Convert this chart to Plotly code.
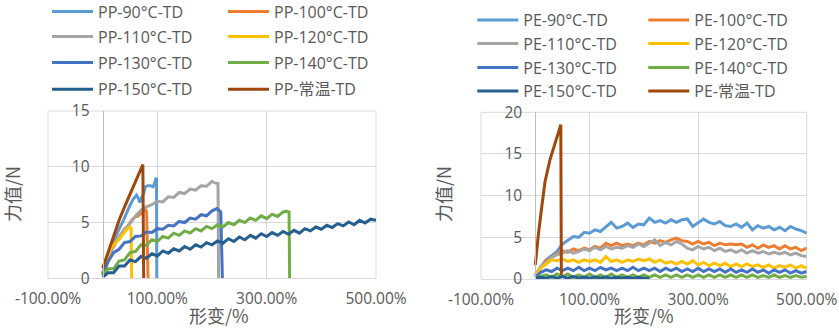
import plotly.graph_objects as go

W, H = 839, 333

COLORS = ["#5B9BD5", "#ED7D31", "#A5A5A5", "#FFC000",
          "#4472C4", "#70AD47", "#255E91", "#9E480E"]

# shared strain grid (%), 10 % steps
X10 = [0, 10, 20, 30, 40, 50, 60, 70, 80, 90, 100, 110, 120, 130, 140, 150, 160, 170,
       180, 190, 200, 210, 220, 230, 240, 250, 260, 270, 280, 290, 300, 310, 320, 330,
       340, 350, 360, 370, 380, 390, 400, 410, 420, 430, 440, 450, 460, 470, 480, 490, 500]

X_TICKS = [-100, 100, 300, 500]
X_TICK_TEXT = ["-100.00%", "100.00%", "300.00%", "500.00%"]
PP_Y_TICKS = [0, 5, 10, 15]
PE_Y_TICKS = [0, 5, 10, 15, 20]

# ---------------- PP, TD direction ----------------
PP_NAMES = ["PP-90°C-TD", "PP-100°C-TD", "PP-110°C-TD", "PP-120°C-TD",
            "PP-130°C-TD", "PP-140°C-TD", "PP-150°C-TD", "PP-常温-TD"]

PP90_X = [0, 5, 13, 20, 26, 32, 38, 44, 50, 56, 62, 65, 68, 72, 75, 78, 82, 87, 92, 95, 97, 98.5, 99]
PP90_Y = [0.4, 1.5, 2.6, 3.4, 4.0, 4.6, 5.2, 5.9, 6.55, 7.1, 7.45, 7.2, 6.8, 7.3, 7.6, 8.2, 8.3, 8.3,
          8.2, 8.5, 8.9, 8.9, 0]

PP100_X = [0, 5, 10, 15, 20, 25, 30, 35, 40, 45, 50, 55, 60, 65, 70, 75, 79, 80.5, 82, 83]
PP100_Y = [0.4, 1.2, 1.9, 2.4, 2.9, 3.3, 3.7, 4.1, 4.4, 4.5, 5.0, 5.3, 5.5, 5.6, 5.8, 6.0, 6.2, 5.8, 2.5, 0]

PP110_X = [0, 5, 10, 20, 30, 40, 50, 60, 70, 80, 90, 100, 110, 120, 130, 140, 150, 160, 170,
           180, 190, 200, 205, 211, 212]
PP110_Y = [0.5, 1.2, 1.9, 2.9, 3.7, 4.4, 4.9, 5.6, 6.1, 6.4, 6.6, 6.9, 6.85, 7.3, 7.25, 7.7, 7.6,
           8.0, 7.9, 8.3, 8.25, 8.7, 8.55, 8.5, 0]

PP120_X = [0, 5, 13, 20, 26, 32, 38, 44, 49, 52, 53]
PP120_Y = [0.3, 1.3, 2.5, 3.0, 3.3, 3.6, 4.0, 4.4, 4.6, 4.5, 0]

PP130_X = [0, 10, 20, 30, 40, 50, 60, 70, 80, 90, 100, 110, 120, 130, 140, 150, 160, 170, 180,
           190, 200, 209, 216, 219]
PP130_Y = [0.3, 1.5, 2.3, 2.6, 3.2, 3.3, 3.75, 3.8, 4.15, 4.1, 4.45, 4.4, 4.75, 4.7, 5.1, 5.0,
           5.4, 5.3, 5.7, 5.6, 6.05, 6.25, 5.95, 0]

PP140_X = X10[:34] + [335, 341, 342]
PP140_Y = [0.3, 0.85, 0.85, 1.55, 1.65, 2.3, 2.4, 3.0, 2.95, 3.45, 3.3, 3.75, 3.6, 4.05, 3.85,
           4.25, 4.05, 4.45, 4.25, 4.65, 4.45, 4.8, 4.6, 5.0, 4.8, 5.2, 5.0, 5.4, 5.2, 5.6, 5.35,
           5.75, 5.55, 5.95, 6.0, 5.95, 0]

PP150_X = X10
PP150_Y = [0.1, 0.5, 0.5, 1.1, 1.1, 1.65, 1.5, 1.95, 1.8, 2.2, 2.0, 2.45, 2.25, 2.65, 2.45, 2.85,
           2.6, 3.0, 2.8, 3.2, 3.0, 3.35, 3.15, 3.55, 3.3, 3.7, 3.45, 3.85, 3.6, 4.0, 3.75, 4.1,
           3.85, 4.2, 3.95, 4.3, 4.05, 4.45, 4.25, 4.6, 4.4, 4.75, 4.55, 4.9, 4.7, 5.05, 4.8, 5.2,
           4.95, 5.3, 5.2]

PPRT_X = [0, 10, 20, 30, 40, 50, 60, 70, 73.5, 75]
PPRT_Y = [0.9, 2.4, 3.85, 5.2, 6.4, 7.55, 8.6, 9.7, 10.2, 0]

PP_X = [PP90_X, PP100_X, PP110_X, PP120_X, PP130_X, PP140_X, PP150_X, PPRT_X]
PP_Y = [PP90_Y, PP100_Y, PP110_Y, PP120_Y, PP130_Y, PP140_Y, PP150_Y, PPRT_Y]

# ---------------- PE, TD direction ----------------
PE_NAMES = ["PE-90°C-TD", "PE-100°C-TD", "PE-110°C-TD", "PE-120°C-TD",
            "PE-130°C-TD", "PE-140°C-TD", "PE-150°C-TD", "PE-常温-TD"]

PE90_Y = [0.5, 1.4, 2.3, 2.8, 3.3, 4.2, 4.6, 5.1, 5.0, 5.6, 5.5, 5.9, 5.7, 6.3, 6.8, 6.1, 6.3,
          6.7, 6.2, 6.6, 6.5, 7.3, 6.8, 7.0, 6.7, 7.1, 6.8, 7.1, 7.2, 6.3, 6.8, 7.2, 6.8, 6.6,
          6.9, 6.4, 6.3, 6.6, 6.2, 6.7, 5.9, 6.4, 6.1, 6.3, 5.9, 6.2, 5.8, 6.3, 6.0, 5.8, 5.5]
PE100_Y = [0.3, 1.4, 2.2, 2.6, 3.0, 3.4, 3.2, 3.6, 3.4, 3.7, 3.5, 3.9, 3.7, 4.3, 4.0, 4.3, 4.0,
           4.2, 4.0, 4.3, 4.1, 4.5, 4.3, 4.6, 4.4, 4.7, 4.9, 4.6, 4.5, 4.2, 4.5, 4.2, 4.4, 4.0,
           4.3, 4.1, 4.2, 4.1, 4.2, 3.8, 4.1, 3.7, 4.1, 3.8, 4.0, 3.6, 4.0, 3.6, 3.8, 3.4, 3.7]
PE110_Y = [0.4, 1.5, 2.0, 2.6, 2.9, 3.1, 3.4, 3.1, 3.3, 3.6, 3.4, 3.8, 3.5, 3.9, 3.6, 3.8, 3.7,
           4.0, 3.8, 4.2, 3.9, 4.3, 4.7, 4.0, 4.4, 4.1, 4.5, 4.2, 3.7, 3.5, 3.9, 3.6, 3.8, 3.4,
           3.7, 3.3, 3.5, 3.2, 3.5, 3.1, 3.4, 3.1, 3.3, 3.0, 3.2, 3.0, 3.2, 2.9, 3.1, 2.8, 2.7]
PE120_Y = [0.3, 1.3, 1.8, 2.3, 2.2, 2.4, 2.1, 2.3, 2.0, 2.3, 2.1, 2.3, 2.0, 2.7, 2.1, 2.3, 2.0,
           2.3, 2.1, 2.4, 2.2, 2.4, 2.0, 2.3, 1.9, 2.1, 1.8, 2.1, 1.8, 2.2, 1.7, 2.0, 1.6, 1.9,
           1.6, 1.9, 1.5, 1.8, 1.5, 1.8, 1.5, 1.7, 1.4, 1.7, 1.3, 1.6, 1.4, 1.7, 1.3, 1.6, 1.3]
PE130_Y = [0.2, 0.8, 1.1, 0.9, 1.3, 1.0, 1.3, 1.0, 1.4, 1.0, 1.3, 1.0, 1.4, 1.1, 1.3, 1.0, 1.3,
           1.0, 1.4, 1.0, 1.3, 1.0, 1.3, 0.9, 1.3, 1.0, 1.3, 0.9, 1.2, 0.9, 1.3, 0.9, 1.2, 0.9,
           1.2, 0.8, 1.2, 0.8, 1.1, 0.8, 1.2, 0.8, 1.1, 0.7, 1.1, 0.8, 1.1, 0.7, 1.0, 0.7, 0.9]
PE140_Y = [0.1, 0.3, 0.5, 0.2, 0.6, 0.3, 0.6, 0.2, 0.5, 0.2, 0.6, 0.2, 0.5, 0.2, 0.6, 0.2, 0.5,
           0.2, 0.5, 0.2, 0.5, 0.2, 0.5, 0.2, 0.5, 0.2, 0.5, 0.2, 0.5, 0.2, 0.5, 0.2, 0.5, 0.2,
           0.5, 0.2, 0.5, 0.2, 0.5, 0.2, 0.5, 0.2, 0.4, 0.2, 0.5, 0.2, 0.4, 0.2, 0.4, 0.2, 0.3]
PE150_X = X10[:22]
PE150_Y = [0.1, 0.2, 0.1, 0.3, 0.1, 0.3, 0.1, 0.3, 0.1, 0.25, 0.1, 0.25, 0.1, 0.25, 0.1, 0.2,
           0.1, 0.2, 0.05, 0.2, 0.05, 0.1]
PERT_X = [0, 3, 6, 12, 18, 27, 36, 42, 47, 48]
PERT_Y = [1.7, 4.0, 5.5, 8.7, 11.7, 14.3, 16.3, 17.5, 18.5, 0.5]

PE_X = [X10, X10, X10, X10, X10, X10, PE150_X, PERT_X]
PE_Y = [PE90_Y, PE100_Y, PE110_Y, PE120_Y, PE130_Y, PE140_Y, PE150_Y, PERT_Y]

# ---------------- layout geometry (pixels) ----------------
TEXT = "#595959"
GRID = "#D9D9D9"
AXIS = "#BFBFBF"
FONT = "Open Sans, Noto Sans CJK SC, sans-serif"
TITLE_FONT = "Noto Sans CJK SC, Open Sans, sans-serif"


def px_x(p):
    return p / W


def px_y(p):
    return 1 - p / H


panels = [
    dict(xl=48, xr=376, yt=111, yb=278.3, ymax=15, yticks=PP_Y_TICKS,
         names=PP_NAMES, xs=PP_X, ys=PP_Y,
         leg_x=47, leg_rows=[11.7, 36.7, 62.7, 89.3], entry=120,
         ytitle=(12, 194), xtitle=(219, 314.5)),
    dict(xl=481, xr=806.7, yt=112.3, yb=279, ymax=20, yticks=PE_Y_TICKS,
         names=PE_NAMES, xs=PE_X, ys=PE_Y,
         leg_x=472.3, leg_rows=[20, 43.7, 67.7, 91], entry=115,
         ytitle=(443, 194), xtitle=(643.5, 314.5)),
]

fig = go.Figure()
layout = dict(
    width=W, height=H,
    margin=dict(l=0, r=0, t=0, b=0, autoexpand=False),
    paper_bgcolor="white", plot_bgcolor="white",
    font=dict(family=FONT, color=TEXT, size=15.5),
    annotations=[], shapes=[],
)

for pi, p in enumerate(panels):
    xa = "xaxis" if pi == 0 else "xaxis2"
    ya = "yaxis" if pi == 0 else "yaxis2"
    xref = "x" if pi == 0 else "x2"
    yref = "y" if pi == 0 else "y2"
    d0, d1 = px_x(p["xl"]), px_x(p["xr"])
    # the vertical axis crosses the horizontal one at 0 %
    y_pos = d0 + (d1 - d0) * (0 - (-100)) / 600

    layout[xa] = dict(
        domain=[d0, d1], range=[-100, 500], anchor=yref,
        tickmode="array", tickvals=X_TICKS, ticktext=X_TICK_TEXT,
        showgrid=True, gridcolor=GRID, gridwidth=1,
        zeroline=False, showline=True, linecolor=GRID, linewidth=1,
        ticks="", ticklabelstandoff=6,
        tickfont=dict(size=15.5, color=TEXT, family=FONT),
    )
    layout[ya] = dict(
        domain=[px_y(p["yb"]), px_y(p["yt"])], range=[0, p["ymax"]],
        anchor="free", position=y_pos, side="left",
        tickmode="array", tickvals=p["yticks"],
        showgrid=True, gridcolor=GRID, gridwidth=1,
        zeroline=False, showline=True, linecolor=AXIS, linewidth=1,
        ticks="", ticklabelstandoff=10,
        tickfont=dict(size=15.5, color=TEXT, family=FONT),
    )

    # gridlines on the outer edges of the plot area (left, right, top)
    xd, yd = f"{xref} domain", f"{yref} domain"
    edge = dict(type="line", line=dict(color=GRID, width=1), layer="below")
    layout["shapes"] += [
        dict(edge, xref=xd, yref=yd, x0=0, x1=0, y0=0, y1=1),
        dict(edge, xref=xd, yref=yd, x0=1, x1=1, y0=0, y1=1),
        dict(edge, xref=xd, yref=yd, x0=0, x1=1, y0=1, y1=1),
    ]

    # one legend per row, two entries in each row
    for r in range(4):
        idx = pi * 4 + r + 1
        lname = "legend" if idx == 1 else f"legend{idx}"
        layout[lname] = dict(
            orientation="h", x=px_x(p["leg_x"]), xanchor="left",
            y=px_y(p["leg_rows"][r]), yanchor="middle",
            itemwidth=41, entrywidth=p["entry"], entrywidthmode="pixels",
            font=dict(size=16, color=TEXT, family=FONT),
            bgcolor="rgba(0,0,0,0)", borderwidth=0,
            traceorder="normal",
        )

    for k in range(8):
        idx = pi * 4 + k // 2 + 1
        lname = "legend" if idx == 1 else f"legend{idx}"
        fig.add_trace(go.Scatter(
            x=p["xs"][k], y=p["ys"][k], name=p["names"][k],
            mode="lines", line=dict(color=COLORS[k], width=3),
            xaxis=xref, yaxis=yref, legend=lname, showlegend=True,
        ))

    layout["annotations"] += [
        dict(text="力值/N", x=px_x(p["ytitle"][0]), y=px_y(p["ytitle"][1]),
             xref="paper", yref="paper", showarrow=False, textangle=-90,
             xanchor="center", yanchor="middle",
             font=dict(size=18, color=TEXT, family=TITLE_FONT)),
        dict(text="形变/%", x=px_x(p["xtitle"][0]), y=px_y(p["xtitle"][1]),
             xref="paper", yref="paper", showarrow=False,
             xanchor="center", yanchor="middle",
             font=dict(size=18, color=TEXT, family=TITLE_FONT)),
    ]

fig.update_layout(**layout)
fig.write_html("out.html")
